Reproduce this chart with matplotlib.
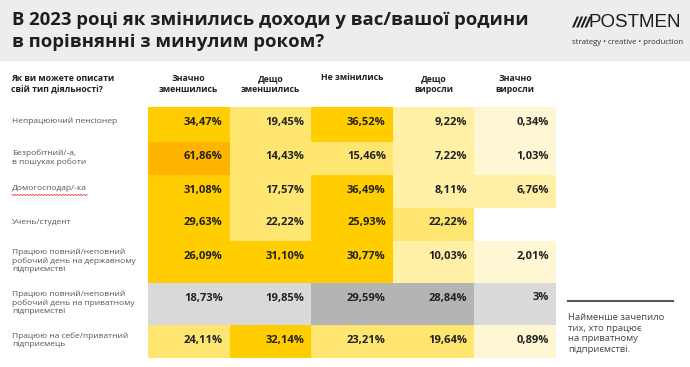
import numpy as np
import matplotlib
matplotlib.use("Agg")
import matplotlib.pyplot as plt
from matplotlib.patches import Rectangle, Polygon

plt.rcParams["font.family"] = ["Open Sans", "DejaVu Sans"]

# %% data
title = "В 2023 році як змінились доходи у вас/вашої родини\nв порівнянні з минулим роком?"
row_header = "Як ви можете описати\nсвій тип діяльності?"
col_headers = ["Значно\nзменшились", "Дещо\nзменшились", "Не змінились", "Дещо\nвиросли", "Значно\nвиросли"]
categories = [
    "Непрацюючий пенсіонер",
    "Безробітний/-а,\nв пошуках роботи",
    "Домогосподар/-ка",
    "Учень/студент",
    "Працюю повний/неповний\nробочий день на державному\nпідприємстві",
    "Працюю повний/неповний\nробочий день на приватному\nпідприємстві",
    "Працюю на себе/приватний\nпідприємець",
]
sharply_decreased = [34.47, 61.86, 31.08, 29.63, 26.09, 18.73, 24.11]
somewhat_decreased = [19.45, 14.43, 17.57, 22.22, 31.10, 19.85, 32.14]
unchanged = [36.52, 15.46, 36.49, 25.93, 30.77, 29.59, 23.21]
somewhat_increased = [9.22, 7.22, 8.11, 22.22, 10.03, 28.84, 19.64]
sharply_increased = [0.34, 1.03, 6.76, None, 2.01, 3, 0.89]
highlight_row = 5
note = "Найменше зачепило\nтих, хто працює\nна приватному\nпідприємстві."

columns = [sharply_decreased, somewhat_decreased, unchanged, somewhat_increased, sharply_increased]


def cell_color(v, grey=False):
    if v is None:
        return "white"
    if grey:
        return "#b4b4b4" if v >= 25 else "#d9d9d9"
    if v >= 50:
        return "#ffb400"
    if v >= 25:
        return "#ffcd00"
    if v >= 14:
        return "#ffe670"
    if v >= 5:
        return "#fff0a6"
    return "#fff7d3"


def fmt(v):
    if float(v).is_integer():
        return f"{int(v)}%"
    return f"{v:.2f}".replace(".", ",") + "%"


# %% figure
fig = plt.figure(figsize=(6.9, 3.67), dpi=100)
ax = fig.add_axes([0, 0, 1, 1])
ax.set_xlim(0, 690)
ax.set_ylim(367, 0)
ax.axis("off")

# header band
ax.add_patch(Rectangle((0, 0), 690, 60, color="#ededed", zorder=0))
ax.text(12, 31, title, fontsize=13.3, fontweight="bold", color="#1e1e1e",
        va="center", ha="left", linespacing=1.25)

# logo
for k in range(4):
    x0 = 572 + k * 4.2
    ax.add_patch(Polygon([[x0, 27.5], [x0 + 2.2, 27.5], [x0 + 7, 16.5], [x0 + 4.8, 16.5]],
                         closed=True, color="#1e1e1e", lw=0))
ax.text(588, 22.5, "POSTMEN", fontsize=13.5, color="#1e1e1e", va="center", ha="left",
        family=["Liberation Sans", "DejaVu Sans"])
ax.text(572, 42, "strategy • creative • production", fontsize=5.6, color="#333333",
        va="center", ha="left")

# column headers
x_left = 148
col_w = 81.6
ax.text(11, 84, row_header, fontsize=6.3, fontweight="bold", color="#222222",
        va="center", ha="left", linespacing=1.4)
for j, h in enumerate(col_headers):
    cx = x_left + col_w * (j + 0.5)
    ax.text(cx, 84 if "\n" in h else 78, h, fontsize=6.3, fontweight="bold",
            color="#222222", va="center", ha="center", linespacing=1.4)

# table
y = 107
for i, cat in enumerate(categories):
    n_lines = cat.count("\n") + 1
    h = 35 if i == 0 else (42 if n_lines == 3 else 33)
    grey = i == highlight_row
    for j, col in enumerate(columns):
        v = col[i]
        x0 = x_left + col_w * j
        ax.add_patch(Rectangle((x0, y), col_w, h, color=cell_color(v, grey), lw=0, zorder=1))
        if v is not None:
            ax.text(x0 + col_w - 7, y + 15, fmt(v), fontsize=8, fontweight="bold",
                    color="#222222", va="center", ha="right", zorder=2)
    ax.text(12, y + 7.5 if n_lines > 1 else y + 10.5, cat, fontsize=6.0, color="#555555",
            va="top", ha="left", linespacing=1.2)
    if cat.startswith("Домогосподар"):
        xs = np.arange(12, 88, 1.5)
        ys = y + 20 + np.where(np.arange(len(xs)) % 2 == 0, -0.6, 0.6)
        ax.plot(xs, ys, color="#e04040", lw=0.6, zorder=2)
    y += h

# note
ax.plot([568, 673], [301, 301], color="#555555", lw=1.5)
ax.text(568, 313.5, note, fontsize=6.8, color="#444444", va="top", ha="left",
        linespacing=1.2)

fig.savefig("out.png", dpi=100)
